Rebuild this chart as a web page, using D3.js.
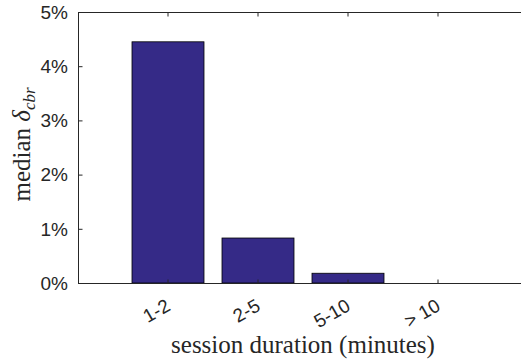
<!DOCTYPE html>
<html>
<head>
<meta charset="utf-8">
<script src="https://cdn.jsdelivr.net/npm/d3@7"></script>
<style>
  body { margin: 0; background: #fff; }
  svg { display: block; }
</style>
</head>
<body>
<div id="chart"></div>
<script>
// datos del gráfico
var categories = ["1-2", "2-5", "5-10", "> 10"];
var medianValues = [4.45, 0.83, 0.18, 0];   // en %
var yTicks = [0, 1, 2, 3, 4, 5];

var width = 521, height = 363,
    margin = {top: 12, left: 78, bottom: 80};
var plotRight = 528; // el eje derecho queda fuera de la ventana

var svg = d3.select("#chart").append("svg")
  .attr("width", width)
  .attr("height", height);

var x = d3.scaleBand()
  .domain(categories)
  .range([margin.left, plotRight])
  .paddingInner(0.2)
  .paddingOuter(0.6);

var y = d3.scaleLinear()
  .domain([0, 5])
  .range([height - margin.bottom, margin.top]);

var axisColor = "#262626";
var sansFont = "'Liberation Sans', Arial, sans-serif";
var serifFont = "'Liberation Serif', 'Times New Roman', serif";

// barras
svg.selectAll("rect.bar")
  .data(medianValues)
  .enter()
  .append("rect")
  .attr("class", "bar")
  .attr("x", function(d, i) { return x(categories[i]); })
  .attr("y", function(d) { return y(d); })
  .attr("width", x.bandwidth())
  .attr("height", function(d) { return y(0) - y(d); })
  .style("fill", "#352A87")
  .style("stroke", "#000")
  .style("stroke-width", 0.8);

// eje Y (ticks hacia dentro)
var yAxis = svg.append("g")
  .attr("transform", "translate(" + (margin.left + 0.5) + ",0)")
  .call(d3.axisRight(y).tickValues(yTicks).tickSize(4).tickFormat(""));
yAxis.select(".domain").remove();
yAxis.selectAll("line").attr("stroke", axisColor);

svg.selectAll("text.ytick")
  .data(yTicks)
  .enter()
  .append("text")
  .attr("class", "ytick")
  .attr("x", margin.left - 10)
  .attr("y", function(d) { return y(d); })
  .attr("dy", "0.36em")
  .attr("text-anchor", "end")
  .style("font-family", sansFont)
  .style("font-size", "19px")
  .style("fill", axisColor)
  .text(function(d) { return d + "%"; });

// eje X abajo y arriba (ticks hacia dentro)
var xBottom = svg.append("g")
  .attr("transform", "translate(0," + (y(0) + 0.5) + ")")
  .call(d3.axisTop(x).tickSize(4).tickSizeOuter(0).tickFormat(""));
xBottom.select(".domain").remove();
xBottom.selectAll("line").attr("stroke", axisColor);

var xTop = svg.append("g")
  .attr("transform", "translate(0," + (y(5) + 0.5) + ")")
  .call(d3.axisBottom(x).tickSize(4).tickSizeOuter(0).tickFormat(""));
xTop.select(".domain").remove();
xTop.selectAll("line").attr("stroke", axisColor);

// líneas de la caja
svg.append("line")
  .attr("x1", margin.left + 0.5).attr("x2", margin.left + 0.5)
  .attr("y1", y(5)).attr("y2", y(0) + 1)
  .attr("stroke", axisColor);
svg.append("line")
  .attr("x1", margin.left).attr("x2", plotRight)
  .attr("y1", y(0) + 0.5).attr("y2", y(0) + 0.5)
  .attr("stroke", axisColor);
svg.append("line")
  .attr("x1", margin.left).attr("x2", plotRight)
  .attr("y1", y(5) + 0.5).attr("y2", y(5) + 0.5)
  .attr("stroke", axisColor);

// etiquetas X rotadas
svg.selectAll("text.xtick")
  .data(categories)
  .enter()
  .append("text")
  .attr("class", "xtick")
  .attr("text-anchor", "end")
  .attr("transform", function(d) {
    var cx = x(d) + x.bandwidth() / 2 - 3;
    return "translate(" + cx + "," + (y(0) + 15) + ") rotate(-30)";
  })
  .attr("dy", "0.7em")
  .style("font-family", sansFont)
  .style("font-size", "19px")
  .style("fill", axisColor)
  .text(function(d) { return d; });

// título eje X
svg.append("text")
  .attr("x", (margin.left + plotRight) / 2)
  .attr("y", 353)
  .attr("text-anchor", "middle")
  .style("font-family", serifFont)
  .style("font-size", "25px")
  .style("fill", axisColor)
  .text("session duration (minutes)");

// título eje Y
var yLabel = svg.append("text")
  .attr("transform", "translate(30," + ((y(0) + y(5)) / 2 - 3) + ") rotate(-90)")
  .attr("text-anchor", "middle")
  .style("font-family", serifFont)
  .style("font-size", "25px")
  .style("fill", axisColor);
yLabel.append("tspan").text("median ");
yLabel.append("tspan").style("font-style", "italic").text("δ");
yLabel.append("tspan").style("font-style", "italic").style("font-size", "17px")
  .attr("dy", 5).text("cbr");
</script>
</body>
</html>
